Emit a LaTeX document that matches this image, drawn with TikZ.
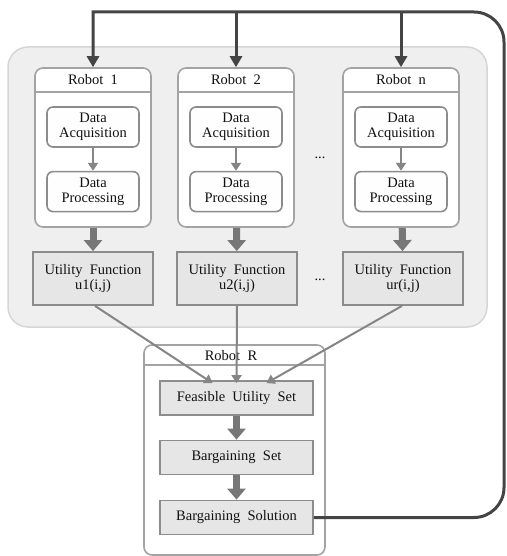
\documentclass[tikz,border=0pt]{standalone}
\usepackage{fontspec}
\setmainfont{Liberation Serif}
\usepackage{tikz}
\usetikzlibrary{positioning,fit,backgrounds,calc,arrows.meta}
\definecolor{fundo}{HTML}{EFEFEF}
\definecolor{borda}{HTML}{D6D6D6}
\definecolor{caixa}{HTML}{8C8C8C}
\definecolor{cinza}{HTML}{E6E6E6}
\definecolor{seta}{HTML}{777777}
\definecolor{escuro}{HTML}{444444}
\definecolor{tinta}{HTML}{111111}

\begin{document}
\begin{tikzpicture}[
      x=1pt, y=-1pt, font=\fontsize{14.5}{15}\selectfont, text=tinta,
      grp/.style={draw=borda,line width=1.5,fill=fundo,rounded corners=20},
      robot/.style={draw=caixa!80,line width=1.6,fill=white,rounded corners=8,minimum width=116,minimum height=159},
      data/.style={draw=caixa,line width=1.6,fill=white!95!cinza,rounded corners=6,minimum width=92,minimum height=40,align=center,inner sep=1},
      util/.style={draw=caixa,line width=1.8,fill=cinza,minimum width=120,minimum height=53,align=center,inner sep=1},
      rset/.style={draw=caixa,line width=1.8,fill=cinza,minimum width=153,minimum height=34},
      hdr/.style={font=\fontsize{14.5}{15}\selectfont},
      thin/.style={draw=seta!90,line width=2,-{Triangle[width=10,length=8]}},
      big/.style={draw=seta,line width=7,-{Triangle[width=18,length=11]}},
      fb/.style={draw=escuro,line width=3,-{Triangle[width=12,length=11]}},
    ]
    \useasboundingbox (0,0) rectangle (506,556);
    \node[grp,minimum width=479,minimum height=280] (robots) at (247.5,187) {};
    % robots
    \foreach \n/\x/\t in {1/93/1, 2/236/2, n/401/n} {
      \node[robot] (r\n) at (\x,147.5) {};
      \node[hdr] (r\n h) at (\x,80) {Robot\ \ \t};
      \draw[caixa!80,line width=1.6] ($(r\n.north west)+(0,25)$) -- ($(r\n.north east)+(0,25)$);
      \node[data] (acq\n) at (\x,127) {Data\\Acquisition};
      \node[data,below=23pt of acq\n] (proc\n) {Data\\Processing};
      \draw[thin] (acq\n) -- (proc\n);
    }
    \node[util] (u1) at (93,278.5) {Utility\ \ Function\\u1(i,j)};
    \node[util] (u2) at (237,278.5) {Utility\ \ Function\\u2(i,j)};
    \node[util] (un) at (403,278.5) {Utility\ \ Function\\ur(i,j)};
    \foreach \n in {1,2,n} \draw[big] (r\n) -- (u\n);
    \node (dots1) at (320,158) {...};
    \node (dots2) at (320,280) {...};
    % robot R
    \node[robot,minimum width=181,minimum height=210] (rR) at (234.5,450) {};
    \node[hdr] (rRh) at (231,356) {Robot\ \ R};
    \draw[caixa!80,line width=1.6] ($(rR.north west)+(0,21)$) -- ($(rR.north east)+(0,21)$);
    \node[rset] (fus) at (236.5,398) {Feasible\ \ Utility\ \ Set};
    \node[rset] (bset) at (236.5,457.5) {Bargaining\ \ Set};
    \node[rset] (bsol) at (236.5,517.5) {Bargaining\ \ Solution};
    \draw[big] (fus) -- (bset);
    \draw[big] (bset) -- (bsol);
    \draw[thin] ([xshift=2]u1.south) -- ([xshift=-24,yshift=-3]fus.north);
    \draw[thin] (u2.south) -- ([yshift=-3]fus.north);
    \draw[thin] ([xshift=-1]un.south) -- ([xshift=30,yshift=-3]fus.north);
    % feedback
    \coordinate (fbtop) at (504,12);
    \draw[fb,rounded corners=30] (bsol.east) -- (fbtop |- bsol.east) -- (fbtop) [sharp corners] -- (r1.north |- fbtop) -- (r1.north);
    \draw[fb] (r2.north |- fbtop) -- (r2.north);
    \draw[fb] (rn.north |- fbtop) -- (rn.north);
\end{tikzpicture}
\end{document}
